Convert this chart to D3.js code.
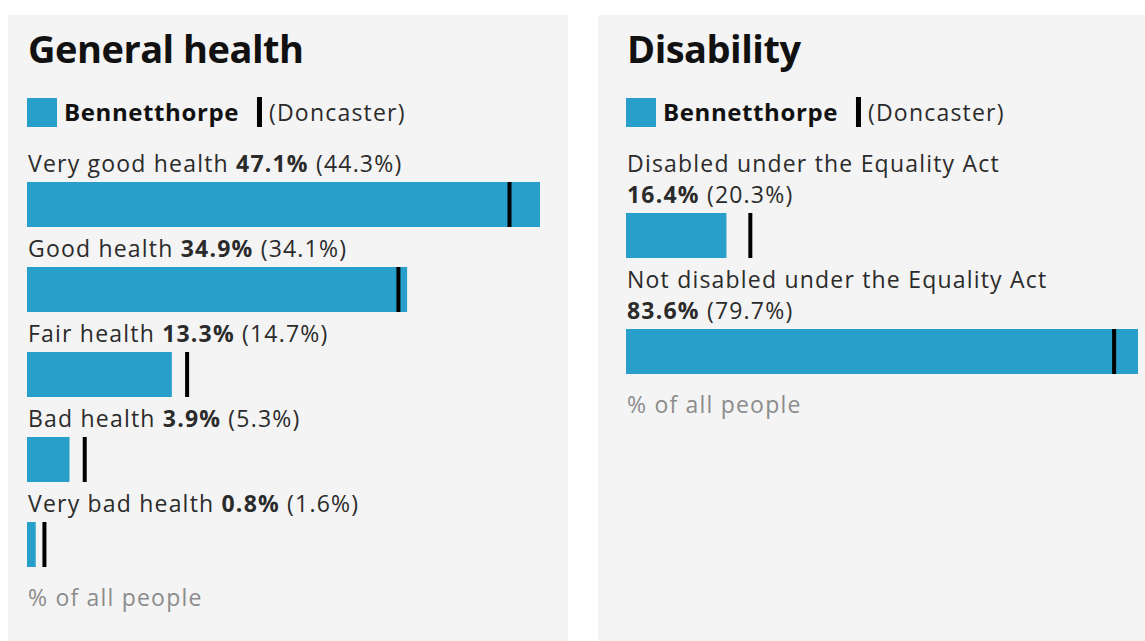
<!DOCTYPE html>
<html>
<head>
<meta charset="utf-8">
<script src="https://cdn.jsdelivr.net/npm/d3@7"></script>
<style>
  html, body { margin: 0; padding: 0; background: #ffffff; }
  svg { display: block; font-family: "Open Sans", sans-serif; }
</style>
</head>
<body>
<svg id="chart" width="1145" height="641"></svg>
<script>
// ---- data ----
const areaName = "Bennetthorpe";
const compareName = "(Doncaster)";
const footerText = "% of all people";

const healthTitle = "General health";
const healthCategories = ["Very good health", "Good health", "Fair health", "Bad health", "Very bad health"];
const healthValues = [47.1, 34.9, 13.3, 3.9, 0.8];
const healthCompare = [44.3, 34.1, 14.7, 5.3, 1.6];

const disabilityTitle = "Disability";
const disabilityCategories = ["Disabled under the Equality Act", "Not disabled under the Equality Act"];
const disabilityValues = [16.4, 83.6];
const disabilityCompare = [20.3, 79.7];

// ---- drawing ----
const svg = d3.select("#chart");
const barColor = "#279fca";
const textColor = "#2b2b2b";
const FS = 23, LS = 1.2;

function panel(opts) {
  const g = svg.append("g").attr("transform", `translate(${opts.x},15)`);
  g.append("rect").attr("x", 0).attr("y", 0).attr("width", opts.w).attr("height", 700).attr("fill", "#f4f4f4");

  const left = opts.left, innerW = opts.innerW;
  g.append("text").attr("x", left + 1).attr("y", 48)
    .attr("font-size", 38).attr("font-weight", 700).attr("letter-spacing", -0.5).attr("fill", "#111")
    .text(opts.title);

  // legend
  g.append("rect").attr("x", left).attr("y", 83).attr("width", 30).attr("height", 29).attr("fill", barColor);
  const lt = g.append("text").attr("x", left + 37).attr("y", 106)
    .attr("font-size", 24).attr("font-weight", 700).attr("letter-spacing", 0.6).attr("fill", "#111").text(areaName);
  const ltw = lt.node().getComputedTextLength();
  const mx = left + 37 + ltw + 18;
  g.append("rect").attr("x", mx).attr("y", 82).attr("width", 5).attr("height", 30).attr("fill", "#000");
  g.append("text").attr("x", mx + 12).attr("y", 106)
    .attr("font-size", FS).attr("letter-spacing", LS).attr("fill", textColor).text(compareName);

  const x = d3.scaleLinear().domain([0, d3.max(opts.values)]).range([0, innerW]);

  const txt = (yy) => g.append("text").attr("x", left + 1).attr("y", yy)
    .attr("font-size", FS).attr("letter-spacing", LS).attr("fill", textColor);

  let y = 132;
  opts.categories.forEach((c, i) => {
    const t = txt(y + 25);
    t.append("tspan").text(c + " ");
    t.append("tspan").attr("font-weight", 700).text(opts.values[i].toFixed(1) + "%");
    t.append("tspan").text(" (" + opts.compare[i].toFixed(1) + "%)");
    const full = t.node().getComputedTextLength();
    if (full > innerW) {
      t.remove();
      txt(y + 25).text(c);
      y += 31;
      const t2 = txt(y + 25);
      t2.append("tspan").attr("font-weight", 700).text(opts.values[i].toFixed(1) + "%");
      t2.append("tspan").text(" (" + opts.compare[i].toFixed(1) + "%)");
    }
    const barY = y + 35;
    g.append("rect").attr("x", left).attr("y", barY).attr("width", x(opts.values[i])).attr("height", 45).attr("fill", barColor);
    g.append("rect").attr("x", left + x(opts.compare[i]) - 2).attr("y", barY).attr("width", 4).attr("height", 45).attr("fill", "#000");
    y = barY + 45 + 5;
  });

  g.append("text").attr("x", left + 1).attr("y", y + 34)
    .attr("font-size", FS).attr("letter-spacing", LS).attr("fill", "#8c8c8c").text(footerText);
}

panel({x: 8, w: 560, left: 19, innerW: 513, title: healthTitle, categories: healthCategories, values: healthValues, compare: healthCompare});
panel({x: 598, w: 560, left: 28, innerW: 512, title: disabilityTitle, categories: disabilityCategories, values: disabilityValues, compare: disabilityCompare});
</script>
</body>
</html>
